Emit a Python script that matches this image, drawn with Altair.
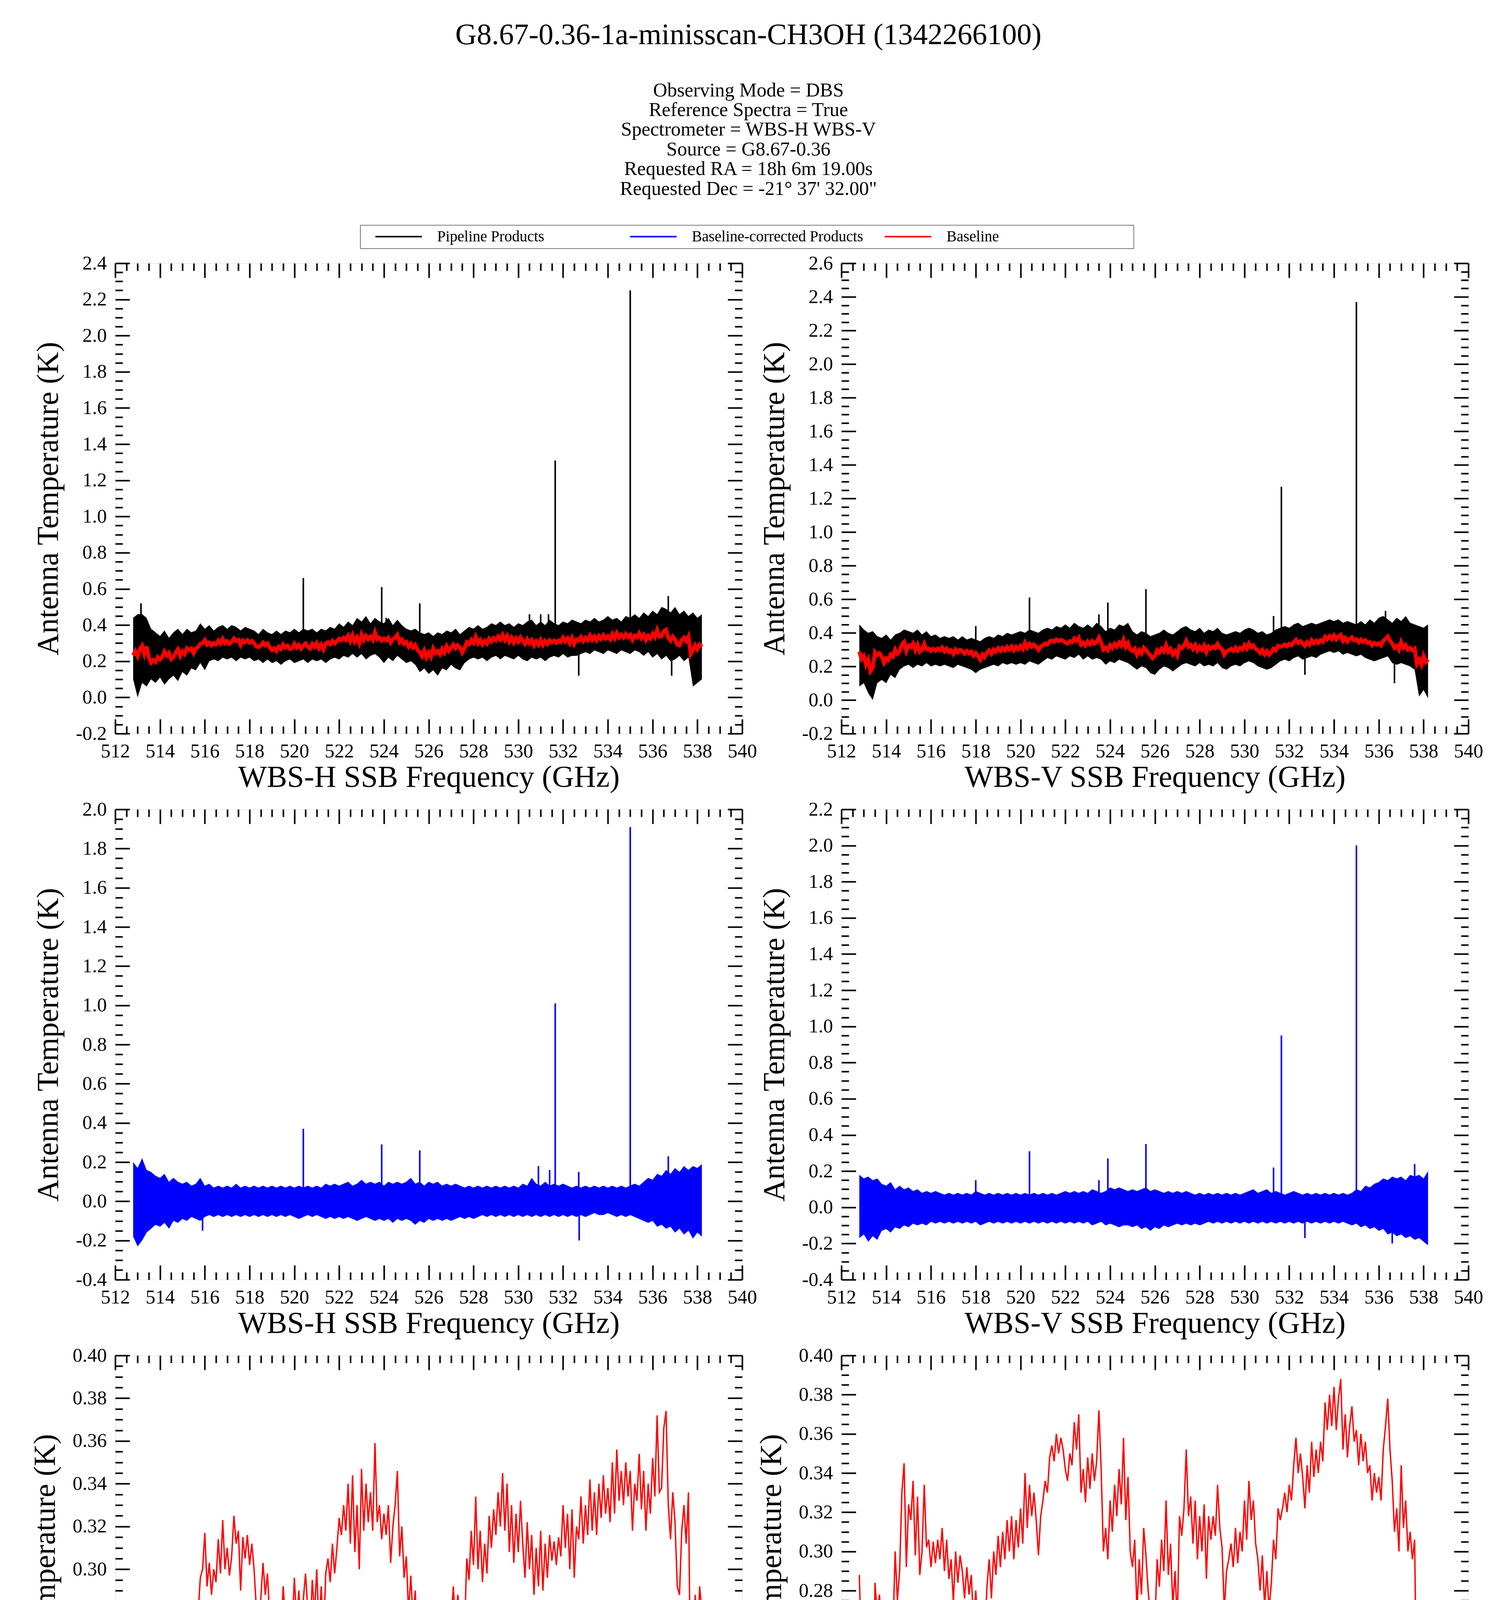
import altair as alt
import numpy as np
import pandas as pd

FONT = "Liberation Serif"

TITLE = "G8.67-0.36-1a-minisscan-CH3OH (1342266100)"
SUBTITLE = [
    "Observing Mode = DBS",
    "Reference Spectra = True",
    "Spectrometer = WBS-H WBS-V",
    "Source = G8.67-0.36",
    "Requested RA = 18h 6m 19.00s",
    "Requested Dec = -21\u00b0 37' 32.00\"",
]
SERIES = ["Pipeline Products", "Baseline-corrected Products", "Baseline"]
SERIES_COLORS = ["black", "blue", "red"]
X_TITLE_H = "WBS-H SSB Frequency (GHz)"
X_TITLE_V = "WBS-V SSB Frequency (GHz)"
Y_TITLE = "Antenna Temperature (K)"

F_START, F_END = 512.8, 538.2

# Baseline (red) read at ~0.1 GHz, 512.8 .. 538.2
BASE_H = [
    0.232, 0.256, 0.228, 0.266, 0.285, 0.240, 0.282, 0.222, 0.192, 0.207,
    0.196, 0.222, 0.210, 0.224, 0.253, 0.232, 0.246, 0.212, 0.222, 0.248,
    0.266, 0.230, 0.254, 0.240, 0.272, 0.262, 0.270, 0.245, 0.270, 0.279,
    0.296, 0.300, 0.317, 0.292, 0.303, 0.288, 0.300, 0.294, 0.314, 0.298,
    0.323, 0.300, 0.310, 0.297, 0.306, 0.325, 0.312, 0.318, 0.290, 0.315,
    0.305, 0.316, 0.302, 0.312, 0.300, 0.282, 0.278, 0.286, 0.303, 0.288,
    0.298, 0.276, 0.262, 0.272, 0.257, 0.280, 0.268, 0.292, 0.276, 0.285,
    0.268, 0.272, 0.296, 0.276, 0.290, 0.270, 0.286, 0.298, 0.281, 0.270,
    0.295, 0.279, 0.300, 0.272, 0.292, 0.266, 0.298, 0.305, 0.294, 0.312,
    0.298, 0.310, 0.324, 0.316, 0.330, 0.318, 0.340, 0.312, 0.344, 0.308,
    0.330, 0.300, 0.347, 0.318, 0.340, 0.322, 0.336, 0.318, 0.359, 0.322,
    0.330, 0.314, 0.326, 0.316, 0.330, 0.303, 0.320, 0.330, 0.346, 0.306,
    0.320, 0.296, 0.306, 0.280, 0.297, 0.276, 0.290, 0.262, 0.250, 0.228,
    0.258, 0.222, 0.248, 0.225, 0.270, 0.245, 0.256, 0.238, 0.268, 0.248,
    0.282, 0.258, 0.276, 0.292, 0.272, 0.288, 0.276, 0.248, 0.272, 0.305,
    0.295, 0.318, 0.302, 0.334, 0.300, 0.318, 0.294, 0.312, 0.298, 0.325,
    0.310, 0.328, 0.316, 0.336, 0.320, 0.345, 0.318, 0.340, 0.308, 0.330,
    0.303, 0.326, 0.308, 0.332, 0.312, 0.296, 0.322, 0.300, 0.316, 0.288,
    0.310, 0.292, 0.318, 0.290, 0.312, 0.296, 0.316, 0.304, 0.313, 0.302,
    0.315, 0.306, 0.330, 0.310, 0.326, 0.300, 0.328, 0.296, 0.320, 0.314,
    0.334, 0.312, 0.330, 0.316, 0.342, 0.318, 0.336, 0.316, 0.340, 0.324,
    0.344, 0.326, 0.338, 0.322, 0.350, 0.326, 0.356, 0.332, 0.346, 0.330,
    0.350, 0.334, 0.346, 0.318, 0.340, 0.332, 0.354, 0.328, 0.346, 0.318,
    0.340, 0.326, 0.352, 0.334, 0.372, 0.336, 0.338, 0.366, 0.374, 0.330,
    0.314, 0.336, 0.322, 0.292, 0.288, 0.318, 0.330, 0.312, 0.336, 0.240,
    0.262, 0.288, 0.266, 0.292, 0.280,
]
BASE_V = [
    0.288, 0.245, 0.262, 0.210, 0.240, 0.172, 0.192, 0.284, 0.268, 0.278,
    0.258, 0.222, 0.248, 0.238, 0.270, 0.258, 0.300, 0.275, 0.290, 0.330,
    0.345, 0.292, 0.324, 0.316, 0.336, 0.298, 0.328, 0.288, 0.300, 0.334,
    0.302, 0.306, 0.292, 0.305, 0.294, 0.306, 0.296, 0.312, 0.290, 0.306,
    0.286, 0.296, 0.274, 0.300, 0.284, 0.298, 0.290, 0.276, 0.292, 0.278,
    0.288, 0.264, 0.280, 0.262, 0.240, 0.270, 0.256, 0.282, 0.296, 0.276,
    0.300, 0.288, 0.308, 0.292, 0.310, 0.296, 0.316, 0.300, 0.318, 0.296,
    0.316, 0.302, 0.322, 0.304, 0.340, 0.312, 0.334, 0.318, 0.330, 0.316,
    0.298, 0.318, 0.326, 0.336, 0.330, 0.348, 0.354, 0.346, 0.360, 0.350,
    0.358, 0.352, 0.342, 0.336, 0.350, 0.344, 0.366, 0.352, 0.370, 0.330,
    0.342, 0.325, 0.348, 0.332, 0.350, 0.336, 0.346, 0.372, 0.342, 0.300,
    0.312, 0.296, 0.326, 0.310, 0.334, 0.318, 0.342, 0.324, 0.358, 0.316,
    0.338, 0.300, 0.292, 0.306, 0.270, 0.296, 0.278, 0.312, 0.298, 0.280,
    0.266, 0.248, 0.262, 0.296, 0.282, 0.306, 0.290, 0.326, 0.288, 0.304,
    0.272, 0.290, 0.264, 0.318, 0.308, 0.322, 0.352, 0.318, 0.328, 0.304,
    0.326, 0.296, 0.318, 0.300, 0.324, 0.286, 0.318, 0.306, 0.318, 0.308,
    0.334, 0.312, 0.302, 0.270, 0.290, 0.296, 0.304, 0.292, 0.312, 0.294,
    0.310, 0.300, 0.326, 0.306, 0.336, 0.316, 0.326, 0.304, 0.296, 0.280,
    0.298, 0.272, 0.290, 0.270, 0.284, 0.306, 0.296, 0.322, 0.316, 0.322,
    0.330, 0.320, 0.334, 0.326, 0.344, 0.358, 0.340, 0.350, 0.338, 0.322,
    0.344, 0.330, 0.356, 0.338, 0.352, 0.340, 0.356, 0.346, 0.376, 0.362,
    0.380, 0.364, 0.384, 0.362, 0.378, 0.388, 0.352, 0.370, 0.348, 0.364,
    0.374, 0.356, 0.362, 0.344, 0.360, 0.346, 0.356, 0.340, 0.344, 0.326,
    0.340, 0.330, 0.338, 0.326, 0.352, 0.364, 0.378, 0.352, 0.336, 0.310,
    0.322, 0.300, 0.344, 0.312, 0.326, 0.300, 0.310, 0.296, 0.306, 0.216,
    0.240, 0.210, 0.262, 0.226, 0.242,
]

# Noise envelopes read at ~0.2 GHz, 512.8 .. 538.2
HI_H = [
    0.44, 0.46, 0.46, 0.44, 0.38, 0.36, 0.34, 0.37, 0.33, 0.36,
    0.38, 0.35, 0.38, 0.36, 0.37, 0.41, 0.38, 0.40, 0.37, 0.39,
    0.40, 0.38, 0.40, 0.39, 0.37, 0.39, 0.38, 0.37, 0.35, 0.38,
    0.36, 0.35, 0.37, 0.35, 0.37, 0.36, 0.38, 0.36, 0.38, 0.37,
    0.38, 0.36, 0.38, 0.37, 0.39, 0.38, 0.41, 0.39, 0.42, 0.40,
    0.44, 0.42, 0.45, 0.41, 0.44, 0.42, 0.41, 0.44, 0.40, 0.43,
    0.40, 0.38, 0.37, 0.38, 0.36, 0.35, 0.36, 0.34, 0.36, 0.35,
    0.37, 0.36, 0.38, 0.35, 0.37, 0.39, 0.38, 0.40, 0.38, 0.39,
    0.41, 0.40, 0.42, 0.40, 0.41, 0.39, 0.41, 0.40, 0.42, 0.43,
    0.40, 0.42, 0.40, 0.43, 0.41, 0.40, 0.42, 0.41, 0.43, 0.42,
    0.41, 0.43, 0.42, 0.44, 0.42, 0.43, 0.45, 0.43, 0.44, 0.42,
    0.45, 0.44, 0.46, 0.44, 0.47, 0.45, 0.48, 0.46, 0.50, 0.49,
    0.47, 0.50, 0.46, 0.48, 0.45, 0.47, 0.44, 0.46,
]
LO_H = [
    0.10, 0.00, 0.08, 0.06, 0.10, 0.08, 0.11, 0.07, 0.10, 0.12,
    0.09, 0.14, 0.12, 0.16, 0.15, 0.19, 0.15, 0.20, 0.21, 0.20,
    0.22, 0.21, 0.22, 0.20, 0.22, 0.21, 0.22, 0.20, 0.21, 0.19,
    0.21, 0.19, 0.20, 0.18, 0.20, 0.21, 0.19, 0.20, 0.21, 0.19,
    0.21, 0.20, 0.21, 0.19, 0.21, 0.22, 0.21, 0.23, 0.22, 0.24,
    0.22, 0.24, 0.21, 0.23, 0.24, 0.22, 0.19, 0.22, 0.20, 0.23,
    0.21, 0.19, 0.20, 0.18, 0.14, 0.16, 0.13, 0.15, 0.12, 0.16,
    0.15, 0.18, 0.16, 0.15, 0.19, 0.21, 0.22, 0.21, 0.22, 0.20,
    0.22, 0.23, 0.21, 0.23, 0.22, 0.21, 0.23, 0.21, 0.20, 0.22,
    0.21, 0.22, 0.20, 0.22, 0.23, 0.22, 0.24, 0.22, 0.23, 0.23,
    0.24, 0.25, 0.24, 0.26, 0.25, 0.24, 0.26, 0.25, 0.24, 0.26,
    0.25, 0.24, 0.26, 0.25, 0.23, 0.25, 0.22, 0.24, 0.21, 0.23,
    0.20, 0.21, 0.23, 0.20, 0.22, 0.06, 0.08, 0.10,
]
HI_V = [
    0.45, 0.42, 0.40, 0.41, 0.38, 0.37, 0.39, 0.36, 0.39, 0.40,
    0.42, 0.41, 0.40, 0.42, 0.39, 0.41, 0.38, 0.39, 0.37, 0.38,
    0.37, 0.38, 0.36, 0.38, 0.36, 0.37, 0.36, 0.35, 0.37, 0.38,
    0.37, 0.39, 0.38, 0.40, 0.39, 0.40, 0.41, 0.40, 0.42, 0.41,
    0.40, 0.42, 0.43, 0.42, 0.44, 0.43, 0.45, 0.43, 0.46, 0.44,
    0.43, 0.45, 0.43, 0.46, 0.44, 0.41, 0.43, 0.42, 0.45, 0.44,
    0.46, 0.41, 0.39, 0.41, 0.40, 0.38, 0.39, 0.40, 0.42, 0.40,
    0.39, 0.41, 0.43, 0.44, 0.42, 0.41, 0.43, 0.40, 0.42, 0.41,
    0.43, 0.40, 0.39, 0.40, 0.41, 0.40, 0.42, 0.43, 0.42, 0.40,
    0.41, 0.39, 0.40, 0.42, 0.43, 0.44, 0.43, 0.45, 0.46, 0.44,
    0.45, 0.46, 0.45, 0.46, 0.47, 0.48, 0.47, 0.48, 0.46, 0.47,
    0.46, 0.45, 0.47, 0.45, 0.48, 0.46, 0.49, 0.50, 0.48, 0.46,
    0.49, 0.47, 0.50, 0.46, 0.45, 0.44, 0.43, 0.45,
]
LO_V = [
    0.08, 0.10, 0.04, 0.00, 0.10, 0.12, 0.10, 0.15, 0.13, 0.18,
    0.20, 0.21, 0.19, 0.21, 0.20, 0.22, 0.20, 0.21, 0.20, 0.21,
    0.20, 0.19, 0.21, 0.20, 0.19, 0.18, 0.16, 0.18, 0.19, 0.20,
    0.21, 0.20, 0.22, 0.21, 0.22, 0.21, 0.22, 0.21, 0.23, 0.22,
    0.21, 0.23, 0.25, 0.24, 0.26, 0.25, 0.24, 0.26, 0.25, 0.27,
    0.24, 0.26, 0.24, 0.25, 0.24, 0.21, 0.23, 0.22, 0.24, 0.23,
    0.22, 0.20, 0.18, 0.20, 0.19, 0.16, 0.15, 0.18, 0.20, 0.19,
    0.17, 0.19, 0.21, 0.22, 0.21, 0.20, 0.22, 0.20, 0.21, 0.20,
    0.22, 0.19, 0.18, 0.20, 0.21, 0.20, 0.22, 0.23, 0.22, 0.20,
    0.19, 0.18, 0.19, 0.21, 0.23, 0.24, 0.23, 0.25, 0.26, 0.24,
    0.25, 0.26, 0.25, 0.27, 0.28, 0.29, 0.28, 0.29, 0.27, 0.28,
    0.27, 0.26, 0.27, 0.25, 0.24, 0.23, 0.24, 0.25, 0.26, 0.22,
    0.21, 0.22, 0.21, 0.20, 0.18, 0.02, 0.06, 0.01,
]
HI_BH = [
    0.20, 0.17, 0.22, 0.16, 0.15, 0.13, 0.12, 0.14, 0.10, 0.12,
    0.10, 0.09, 0.10, 0.08, 0.09, 0.12, 0.08, 0.09, 0.07, 0.08,
    0.07, 0.08, 0.07, 0.09, 0.07, 0.08, 0.07, 0.08, 0.07, 0.08,
    0.07, 0.08, 0.07, 0.08, 0.07, 0.08, 0.07, 0.08, 0.07, 0.08,
    0.07, 0.08, 0.07, 0.09, 0.08, 0.09, 0.08, 0.09, 0.10, 0.08,
    0.09, 0.11, 0.09, 0.10, 0.09, 0.10, 0.08, 0.10, 0.09, 0.10,
    0.09, 0.10, 0.12, 0.09, 0.10, 0.08, 0.10, 0.09, 0.10, 0.08,
    0.09, 0.08, 0.09, 0.08, 0.07, 0.08, 0.07, 0.08, 0.07, 0.08,
    0.07, 0.08, 0.07, 0.08, 0.07, 0.08, 0.07, 0.09, 0.08, 0.12,
    0.09, 0.08, 0.10, 0.08, 0.09, 0.08, 0.09, 0.08, 0.07, 0.08,
    0.07, 0.08, 0.07, 0.08, 0.07, 0.08, 0.07, 0.08, 0.07, 0.08,
    0.07, 0.08, 0.09, 0.08, 0.10, 0.12, 0.11, 0.14, 0.13, 0.16,
    0.14, 0.17, 0.15, 0.18, 0.16, 0.18, 0.17, 0.19,
]
LO_BH = [
    -0.18, -0.23, -0.20, -0.16, -0.14, -0.12, -0.13, -0.11, -0.14, -0.10,
    -0.11, -0.09, -0.10, -0.08, -0.09, -0.10, -0.08, -0.07, -0.08, -0.07,
    -0.08, -0.07, -0.08, -0.07, -0.08, -0.07, -0.08, -0.07, -0.08, -0.07,
    -0.08, -0.07, -0.08, -0.07, -0.08, -0.07, -0.08, -0.09, -0.08, -0.07,
    -0.08, -0.07, -0.08, -0.09, -0.08, -0.09, -0.08, -0.09, -0.08, -0.09,
    -0.10, -0.09, -0.08, -0.09, -0.10, -0.09, -0.10, -0.09, -0.11, -0.09,
    -0.10, -0.09, -0.10, -0.12, -0.10, -0.11, -0.09, -0.10, -0.09, -0.10,
    -0.09, -0.10, -0.09, -0.08, -0.09, -0.08, -0.09, -0.08, -0.07, -0.08,
    -0.07, -0.08, -0.07, -0.08, -0.07, -0.08, -0.07, -0.08, -0.07, -0.08,
    -0.07, -0.08, -0.07, -0.08, -0.07, -0.08, -0.07, -0.08, -0.07, -0.08,
    -0.07, -0.08, -0.07, -0.06, -0.07, -0.07, -0.06, -0.07, -0.08, -0.07,
    -0.08, -0.07, -0.08, -0.09, -0.10, -0.11, -0.10, -0.13, -0.12, -0.14,
    -0.13, -0.16, -0.14, -0.17, -0.15, -0.19, -0.16, -0.18,
]
HI_BV = [
    0.18, 0.16, 0.17, 0.15, 0.16, 0.13, 0.12, 0.14, 0.10, 0.12,
    0.10, 0.11, 0.09, 0.10, 0.08, 0.09, 0.08, 0.09, 0.08, 0.07,
    0.08, 0.07, 0.08, 0.07, 0.08, 0.07, 0.09, 0.08, 0.07, 0.08,
    0.07, 0.08, 0.07, 0.08, 0.07, 0.08, 0.07, 0.08, 0.07, 0.08,
    0.07, 0.08, 0.07, 0.08, 0.07, 0.08, 0.09, 0.08, 0.09, 0.08,
    0.09, 0.08, 0.10, 0.09, 0.08, 0.09, 0.11, 0.10, 0.11, 0.10,
    0.09, 0.10, 0.09, 0.10, 0.11, 0.09, 0.10, 0.09, 0.08, 0.09,
    0.08, 0.09, 0.08, 0.09, 0.08, 0.07, 0.08, 0.07, 0.08, 0.07,
    0.08, 0.07, 0.08, 0.07, 0.08, 0.07, 0.08, 0.09, 0.10, 0.08,
    0.09, 0.10, 0.08, 0.09, 0.08, 0.07, 0.08, 0.09, 0.08, 0.07,
    0.08, 0.07, 0.08, 0.07, 0.08, 0.07, 0.08, 0.07, 0.08, 0.07,
    0.08, 0.10, 0.09, 0.12, 0.11, 0.13, 0.14, 0.16, 0.15, 0.17,
    0.16, 0.17, 0.15, 0.18, 0.17, 0.18, 0.16, 0.20,
]
LO_BV = [
    -0.17, -0.15, -0.19, -0.16, -0.18, -0.13, -0.12, -0.14, -0.11, -0.12,
    -0.10, -0.11, -0.09, -0.10, -0.09, -0.10, -0.08, -0.09, -0.08, -0.09,
    -0.08, -0.09, -0.08, -0.09, -0.08, -0.09, -0.08, -0.10, -0.09, -0.08,
    -0.09, -0.08, -0.09, -0.08, -0.09, -0.08, -0.09, -0.08, -0.09, -0.08,
    -0.09, -0.08, -0.09, -0.08, -0.09, -0.08, -0.09, -0.08, -0.09, -0.08,
    -0.09, -0.08, -0.10, -0.09, -0.08, -0.10, -0.09, -0.10, -0.11, -0.10,
    -0.10, -0.11, -0.10, -0.12, -0.11, -0.13, -0.11, -0.12, -0.10, -0.11,
    -0.10, -0.09, -0.10, -0.09, -0.10, -0.09, -0.10, -0.09, -0.08, -0.09,
    -0.08, -0.09, -0.08, -0.09, -0.08, -0.09, -0.08, -0.09, -0.08, -0.09,
    -0.08, -0.09, -0.08, -0.09, -0.08, -0.09, -0.08, -0.09, -0.08, -0.09,
    -0.08, -0.09, -0.08, -0.09, -0.08, -0.09, -0.08, -0.09, -0.08, -0.09,
    -0.10, -0.09, -0.11, -0.10, -0.12, -0.11, -0.13, -0.12, -0.15, -0.14,
    -0.16, -0.15, -0.17, -0.16, -0.18, -0.17, -0.19, -0.21,
]

# Narrow lines / spikes: frequency, peak end, other end
SPK_H_F = [513.15, 520.4, 523.9, 524.1, 525.6, 530.5, 531.0, 531.35, 531.65, 535.0, 536.7, 532.7, 536.85]
SPK_H_TOP = [0.52, 0.66, 0.61, 0.44, 0.52, 0.46, 0.46, 0.46, 1.31, 2.25, 0.56, 0.32, 0.32]
SPK_H_BOT = [0.30, 0.30, 0.30, 0.30, 0.30, 0.30, 0.30, 0.30, 0.30, 0.32, 0.34, 0.12, 0.12]
SPK_V_F = [518.0, 520.4, 523.5, 523.9, 525.6, 531.3, 531.65, 535.0, 536.3, 532.7, 536.7]
SPK_V_TOP = [0.44, 0.61, 0.51, 0.58, 0.66, 0.50, 1.27, 2.37, 0.53, 0.34, 0.32]
SPK_V_BOT = [0.28, 0.30, 0.32, 0.32, 0.30, 0.30, 0.30, 0.35, 0.36, 0.15, 0.10]
SPK_BH_F = [520.4, 523.9, 525.6, 530.9, 531.4, 531.65, 532.7, 535.0, 536.7, 515.9, 532.72]
SPK_BH_TOP = [0.37, 0.29, 0.26, 0.18, 0.16, 1.01, 0.15, 1.91, 0.23, 0.0, 0.0]
SPK_BH_BOT = [0.0, 0.0, 0.0, 0.0, 0.0, 0.0, 0.0, 0.0, 0.0, -0.15, -0.20]
SPK_BV_F = [518.0, 520.4, 523.5, 523.9, 525.6, 531.3, 531.65, 535.0, 537.6, 532.7, 536.6]
SPK_BV_TOP = [0.15, 0.31, 0.15, 0.27, 0.35, 0.22, 0.95, 2.00, 0.24, 0.0, 0.0]
SPK_BV_BOT = [0.0, 0.0, 0.0, 0.0, 0.0, 0.0, 0.0, 0.0, 0.0, -0.17, -0.20]

X_DOMAIN = [512, 540]
X_MAJOR = list(range(512, 541, 2))
X_MINOR = [512 + 0.5 * i for i in range(57) if i % 4]

PANEL_W, PANEL_H = 1605, 1204
MAJ, MIN = 37, 19


def tick_values(lo, hi, step):
    n = int(round((hi - lo) / step))
    return [round(lo + step * i, 4) for i in range(n + 1)]


def grid(vals):
    return np.round(np.linspace(F_START, F_END, len(vals)), 4)


def band_df(hi, lo):
    return pd.DataFrame({"f": grid(hi), "hi": hi, "lo": lo})


def line_df(vals):
    return pd.DataFrame({"f": grid(vals), "v": vals, "series": "Baseline"})


def spike_df(f, top, bot):
    return pd.DataFrame({"f": f, "top": top, "bot": bot})


LEGEND = alt.Legend(
    title=" ", titleOrient="right", titlePadding=335, titleFontSize=10,
    orient="none", legendX=627, legendY=-98, direction="horizontal",
    columns=3, gridAlign="all", symbolType="stroke", symbolSize=14161,
    symbolStrokeWidth=4, symbolOffset=27, labelOffset=37, columnPadding=26,
    clipHeight=39,
    labelFont=FONT, labelFontSize=39, labelColor="black", labelLimit=1000,
    padding=10, strokeColor="black",
)


def make_axes(xtitle, ymaj, ymin, fmt):
    tick = dict(domain=False, grid=False, tickColor="black", tickWidth=4, labels=False, title=None)
    label_expr = (f"datum.value < 0 ? '-' + format(-datum.value, '{fmt}') "
                  f": format(datum.value, '{fmt}')")
    main_x = alt.Axis(orient="bottom", values=X_MAJOR, tickSize=MAJ, offset=-MAJ,
                      domain=False, grid=False, tickColor="black", tickWidth=4,
                      labelFont=FONT, labelFontSize=50, labelColor="black", labelPadding=20,
                      labelFlush=False, labelOverlap=False, format="d",
                      title=xtitle, titleFont=FONT, titleFontSize=78,
                      titleFontWeight="normal", titleColor="black", titlePadding=3)
    main_y = alt.Axis(orient="left", values=ymaj, tickSize=MAJ, offset=-MAJ,
                      domain=False, grid=False, tickColor="black", tickWidth=4,
                      labelFont=FONT, labelFontSize=50, labelColor="black", labelPadding=22,
                      labelFlush=False, labelOverlap=False, labelExpr=label_expr,
                      title=Y_TITLE, titleFont=FONT, titleFontSize=78,
                      titleFontWeight="normal", titleColor="black", titlePadding=30)
    return [
        (main_x, main_y),
        (alt.Axis(orient="bottom", values=X_MINOR, tickSize=MIN, offset=-MIN, **tick),
         alt.Axis(orient="left", values=ymin, tickSize=MIN, offset=-MIN, **tick)),
        (alt.Axis(orient="top", values=X_MAJOR, tickSize=MAJ, offset=-MAJ, **tick),
         alt.Axis(orient="right", values=ymaj, tickSize=MAJ, offset=-MAJ, **tick)),
        (alt.Axis(orient="top", values=X_MINOR, tickSize=MIN, offset=-MIN, **tick),
         alt.Axis(orient="right", values=ymin, tickSize=MIN, offset=-MIN, **tick)),
    ]


def panel(kind, xtitle, ydom, ystep, yminor, fmt, band=None, band_color="black",
          spikes=None, base=None):
    xs = alt.Scale(domain=X_DOMAIN, nice=False, zero=False)
    ys = alt.Scale(domain=ydom, nice=False, zero=False)
    ymaj = tick_values(ydom[0], ydom[1], ystep)
    ymin_all = tick_values(ydom[0], ydom[1], yminor)
    ymin = [v for i, v in enumerate(ymin_all) if i % 4]
    axes = make_axes(xtitle, ymaj, ymin, fmt)
    builders = []
    if band is not None:
        def b_band(ax, ay, band=band, color=band_color):
            return alt.Chart(band).mark_area(color=color, interpolate="linear").encode(
                x=alt.X("f:Q", scale=xs, axis=ax),
                y=alt.Y("hi:Q", scale=ys, axis=ay),
                y2="lo:Q",
            )
        builders.append(b_band)
    if spikes is not None:
        def b_spk(ax, ay, spikes=spikes, color=band_color):
            return alt.Chart(spikes).mark_rule(color=color, strokeWidth=4).encode(
                x=alt.X("f:Q", scale=xs, axis=ax),
                y=alt.Y("top:Q", scale=ys, axis=ay),
                y2="bot:Q",
            )
        builders.append(b_spk)
    if base is not None:
        sw = 10 if kind == "pipeline" else 3.5
        def b_base(ax, ay, base=base, sw=sw):
            return alt.Chart(base).mark_line(strokeWidth=sw, interpolate="linear").encode(
                x=alt.X("f:Q", scale=xs, axis=ax),
                y=alt.Y("v:Q", scale=ys, axis=ay),
                color=alt.Color("series:N", scale=alt.Scale(domain=SERIES, range=SERIES_COLORS),
                                legend=LEGEND),
            )
        builders.append(b_base)
    dummy = pd.DataFrame({"f": [526.0], "v": [(ydom[0] + ydom[1]) / 2]})
    while len(builders) < 4:
        def b_dummy(ax, ay):
            return alt.Chart(dummy).mark_point(opacity=0).encode(
                x=alt.X("f:Q", scale=xs, axis=ax),
                y=alt.Y("v:Q", scale=ys, axis=ay),
            )
        builders.append(b_dummy)
    layers = [b(ax, ay) for b, (ax, ay) in zip(builders, axes)]
    return alt.layer(*layers).resolve_axis(x="independent", y="independent").properties(
        width=PANEL_W, height=PANEL_H)


panels = [
    panel("pipeline", X_TITLE_H, [-0.2, 2.4], 0.2, 0.05, ".1f",
          band=band_df(HI_H, LO_H), band_color="black",
          spikes=spike_df(SPK_H_F, SPK_H_TOP, SPK_H_BOT), base=line_df(BASE_H)),
    panel("pipeline", X_TITLE_V, [-0.2, 2.6], 0.2, 0.05, ".1f",
          band=band_df(HI_V, LO_V), band_color="black",
          spikes=spike_df(SPK_V_F, SPK_V_TOP, SPK_V_BOT), base=line_df(BASE_V)),
    panel("corrected", X_TITLE_H, [-0.4, 2.0], 0.2, 0.05, ".1f",
          band=band_df(HI_BH, LO_BH), band_color="blue",
          spikes=spike_df(SPK_BH_F, SPK_BH_TOP, SPK_BH_BOT)),
    panel("corrected", X_TITLE_V, [-0.4, 2.2], 0.2, 0.05, ".1f",
          band=band_df(HI_BV, LO_BV), band_color="blue",
          spikes=spike_df(SPK_BV_F, SPK_BV_TOP, SPK_BV_BOT)),
    panel("baseline", X_TITLE_H, [0.18, 0.40], 0.02, 0.005, ".2f", base=line_df(BASE_H)),
    panel("baseline", X_TITLE_V, [0.16, 0.40], 0.02, 0.005, ".2f", base=line_df(BASE_V)),
]

chart = alt.concat(
    *panels, columns=2, spacing={"row": 194, "column": 254}, bounds="flush"
).properties(
    title=alt.TitleParams(
        text=TITLE, subtitle=SUBTITLE, anchor="middle", frame="bounds", dx=-21, offset=66,
        font=FONT, fontSize=76, fontWeight="normal", color="black",
        subtitleFont=FONT, subtitleFontSize=50, subtitleColor="black",
        subtitleLineHeight=50.4, subtitlePadding=78,
    ),
    padding={"left": 69, "top": 43, "right": 10, "bottom": 10},
    background="white",
).configure_view(
    stroke="black", strokeWidth=4
).configure_legend(
    strokeWidth=2
).configure(font=FONT)

chart.save("out.html", embed_options={"renderer": "svg", "actions": False})
